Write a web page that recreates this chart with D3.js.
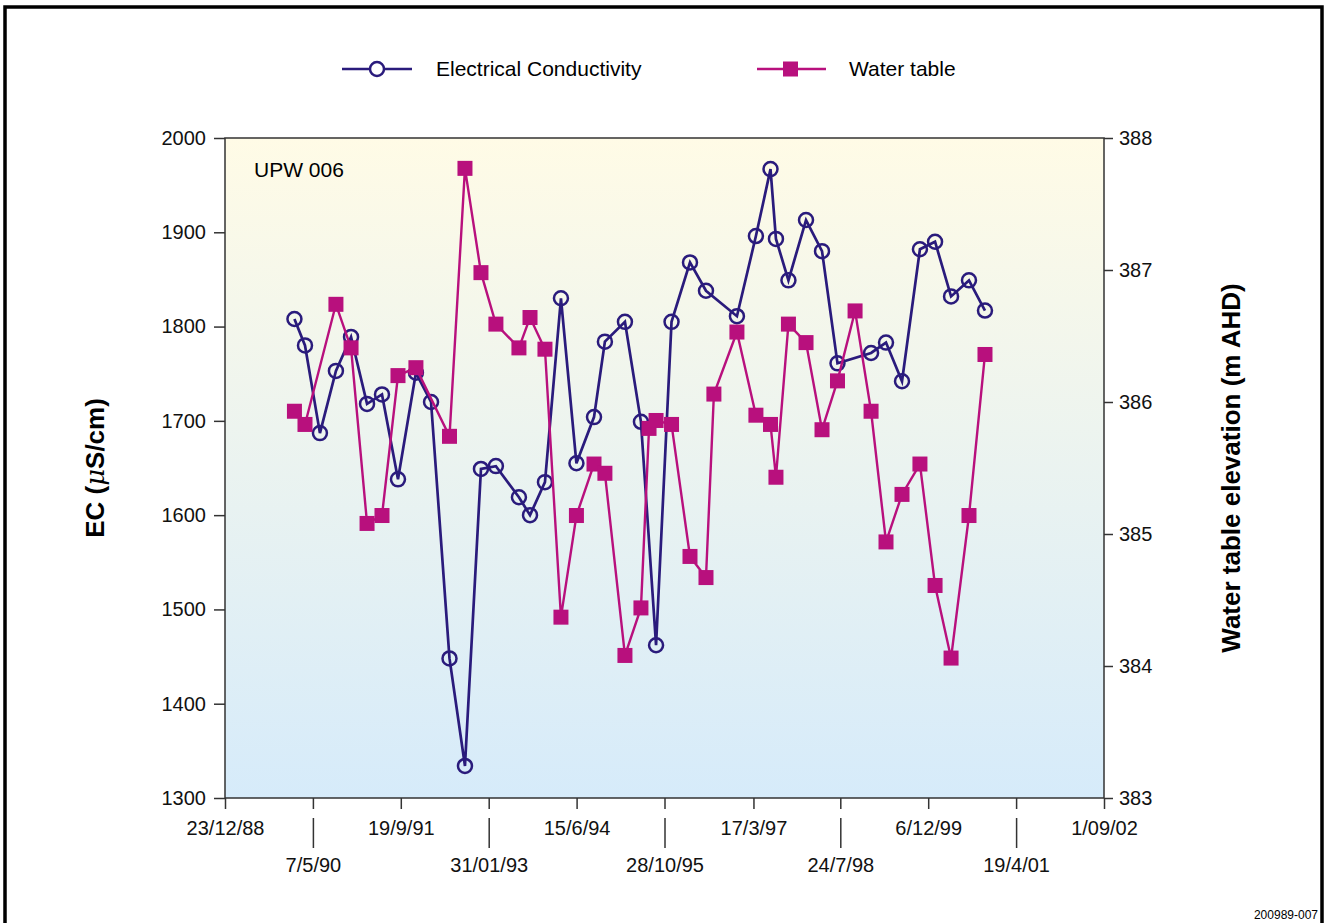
<!DOCTYPE html>
<html>
<head>
<meta charset="utf-8">
<script src="https://cdn.jsdelivr.net/npm/d3@7"></script>
<style>
body { margin: 0; background: #fff; }
text { font-family: "Liberation Sans", Arial, Helvetica, sans-serif; }
</style>
</head>
<body>
<div id="chart"></div>
<script>
// sample dates shared by the two series
var ecDates = ["1990-01-22","1990-03-23","1990-06-16","1990-09-15","1990-12-10","1991-03-11","1991-06-04","1991-09-03","1991-12-14","1992-03-09",
    "1992-06-22","1992-09-18","1992-12-18","1993-03-13","1993-07-22","1993-09-23","1993-12-17","1994-03-18","1994-06-14","1994-09-22",
    "1994-11-23","1995-03-17","1995-06-16","1995-09-10","1995-12-07","1996-03-21","1996-06-20","1996-12-13","1997-03-31","1997-06-22",
    "1997-07-23","1997-10-02","1998-01-10","1998-04-11","1998-07-08","1999-01-15","1999-04-10","1999-07-10","1999-10-20","2000-01-14",
    "2000-04-14","2000-07-25","2000-10-24"];
var ecValues = [1808,1780,1687,1753,1789,1718,1728,1638,1751,1720,
    1448,1334,1649,1652,1619,1600,1635,1830,1655,1704,
    1784,1805,1699,1462,1805,1868,1838,1811,1896,1967,
    1893,1849,1913,1880,1761,1772,1783,1742,1882,1890,
    1832,1849,1817];

var wtDates = ["1990-01-22","1990-03-23","1990-09-15","1990-12-10","1991-03-11","1991-06-04","1991-09-03","1991-12-14","1992-06-22","1992-09-18",
    "1992-12-18","1993-03-13","1993-07-22","1993-09-23","1993-12-17","1994-03-18","1994-06-14","1994-09-22","1994-11-23","1995-03-17",
    "1995-06-16","1995-08-01","1995-09-10","1995-12-07","1996-03-21","1996-06-20","1996-08-04","1996-12-13","1997-03-31","1997-06-22",
    "1997-07-23","1997-10-02","1998-01-10","1998-04-11","1998-07-08","1998-10-16","1999-01-15","1999-04-10","1999-07-10","1999-10-20",
    "2000-01-14","2000-04-14","2000-07-25","2000-10-24"];
var wtValues = [385.93,385.83,386.74,386.41,385.08,385.14,386.20,386.26,385.74,387.77,
    386.98,386.59,386.41,386.64,386.40,384.37,385.14,385.53,385.46,384.08,
    384.44,385.80,385.86,385.83,384.83,384.67,386.06,386.53,385.90,385.83,
    385.43,386.59,386.45,385.79,386.16,386.69,385.93,384.94,385.30,385.53,
    384.61,384.06,385.14,386.36];

var tickDates = ["1988-12-23","1990-05-07","1991-09-19","1993-01-31","1994-06-15","1995-10-28","1997-03-17","1998-07-24","1999-12-06","2001-04-19","2002-09-01"];
var tickLabels = ["23/12/88","7/5/90","19/9/91","31/01/93","15/6/94","28/10/95","17/3/97","24/7/98","6/12/99","19/4/01","1/09/02"];
var ecTicks = [1300,1400,1500,1600,1700,1800,1900,2000];
var wtTicks = [383,384,385,386,387,388];

var width = 1326, height = 923;
var plot = { left: 225, right: 1104, top: 138, bottom: 798 };
var ecColor = "#2a1b7c", wtColor = "#b8107d";

var parse = d3.utcParse("%Y-%m-%d");

var ec = ecDates.map(function(d, i) { return { date: parse(d), value: ecValues[i] }; });
var wt = wtDates.map(function(d, i) { return { date: parse(d), value: wtValues[i] }; });

var x = d3.scaleUtc()
    .domain([parse(tickDates[0]), parse(tickDates[tickDates.length - 1])])
    .range([plot.left, plot.right]);
var yEC = d3.scaleLinear().domain([1300, 2000]).range([plot.bottom, plot.top]);
var yWT = d3.scaleLinear().domain([383, 388]).range([plot.bottom, plot.top]);

var svg = d3.select("#chart").append("svg")
    .attr("width", width)
    .attr("height", height);

// outer frame
svg.append("rect")
    .attr("x", 5).attr("y", 7)
    .attr("width", 1317).attr("height", 960)
    .attr("fill", "none")
    .attr("stroke", "#000")
    .attr("stroke-width", 3.5);

var grad = svg.append("defs").append("linearGradient")
    .attr("id", "bg").attr("x1", 0).attr("y1", 0).attr("x2", 0).attr("y2", 1);
grad.append("stop").attr("offset", "0%").attr("stop-color", "#fffbe6");
grad.append("stop").attr("offset", "100%").attr("stop-color", "#d6ebfa");

svg.append("rect")
    .attr("x", plot.left).attr("y", plot.top)
    .attr("width", plot.right - plot.left).attr("height", plot.bottom - plot.top)
    .attr("fill", "url(#bg)")
    .attr("stroke", "#333")
    .attr("stroke-width", 1.5);

// left axis
var gl = svg.append("g")
    .attr("transform", "translate(" + plot.left + ",0)")
    .call(d3.axisLeft(yEC).tickValues(ecTicks).tickSize(11).tickPadding(8).tickFormat(d3.format("d")));
gl.select(".domain").remove();

// right axis
var gr = svg.append("g")
    .attr("transform", "translate(" + plot.right + ",0)")
    .call(d3.axisRight(yWT).tickValues(wtTicks).tickSize(9).tickPadding(6).tickFormat(d3.format("d")));
gr.select(".domain").remove();

// bottom axis, labels in two rows
var gb = svg.append("g")
    .attr("transform", "translate(0," + plot.bottom + ")")
    .call(d3.axisBottom(x).tickValues(tickDates.map(parse)).tickSize(11)
        .tickFormat(function(d, i) { return tickLabels[i]; }));
gb.select(".domain").remove();
gb.selectAll(".tick text")
    .attr("dy", null)
    .attr("y", function(d, i) { return i % 2 ? 74 : 37; });
gb.selectAll(".tick").filter(function(d, i) { return i % 2 === 1; })
    .append("line")
    .attr("y1", 20).attr("y2", 50)
    .attr("stroke", "#333");

svg.selectAll(".tick line").attr("stroke", "#333").attr("stroke-width", 1.5);
svg.selectAll(".tick text")
    .attr("font-size", 20)
    .attr("fill", "#111")
    .style("font-family", "'Liberation Sans', Arial, sans-serif");

// EC series
svg.append("path")
    .datum(ec)
    .attr("fill", "none")
    .attr("stroke", ecColor)
    .attr("stroke-width", 2.7)
    .attr("d", d3.line().x(function(d) { return x(d.date); }).y(function(d) { return yEC(d.value); }));

svg.append("g").selectAll("circle")
    .data(ec)
    .enter().append("circle")
    .attr("cx", function(d) { return x(d.date); })
    .attr("cy", function(d) { return yEC(d.value); })
    .attr("r", 7)
    .attr("fill", "none")
    .attr("stroke", ecColor)
    .attr("stroke-width", 2.5);

// water table series
svg.append("path")
    .datum(wt)
    .attr("fill", "none")
    .attr("stroke", wtColor)
    .attr("stroke-width", 2.4)
    .attr("d", d3.line().x(function(d) { return x(d.date); }).y(function(d) { return yWT(d.value); }));

svg.append("g").selectAll("rect")
    .data(wt)
    .enter().append("rect")
    .attr("x", function(d) { return x(d.date) - 7.5; })
    .attr("y", function(d) { return yWT(d.value) - 7.5; })
    .attr("width", 15).attr("height", 15)
    .attr("fill", wtColor);

// legend
var leg = svg.append("g");
leg.append("line").attr("x1", 342).attr("x2", 412).attr("y1", 69).attr("y2", 69)
    .attr("stroke", ecColor).attr("stroke-width", 2.7);
leg.append("circle").attr("cx", 377).attr("cy", 69).attr("r", 7)
    .attr("fill", "#fff").attr("stroke", ecColor).attr("stroke-width", 2.5);
leg.append("text").attr("x", 436).attr("y", 76).attr("font-size", 21).text("Electrical Conductivity");
leg.append("line").attr("x1", 757).attr("x2", 826).attr("y1", 69).attr("y2", 69)
    .attr("stroke", wtColor).attr("stroke-width", 2.4);
leg.append("rect").attr("x", 783).attr("y", 61.5).attr("width", 15).attr("height", 15)
    .attr("fill", wtColor);
leg.append("text").attr("x", 849).attr("y", 76).attr("font-size", 21).text("Water table");

// well label
svg.append("text").attr("x", 254).attr("y", 177).attr("font-size", 21).text("UPW 006");

// axis titles
var ecTitle = svg.append("text")
    .attr("transform", "translate(104,468) rotate(-90)")
    .attr("text-anchor", "middle")
    .attr("font-size", 26)
    .attr("font-weight", "bold");
ecTitle.append("tspan").text("EC (");
ecTitle.append("tspan").attr("font-style", "italic").attr("font-family", "'DejaVu Serif', serif").attr("font-weight", "normal").text("\u03bc");
ecTitle.append("tspan").text("S/cm)");

svg.append("text")
    .attr("transform", "translate(1240,468) rotate(-90)")
    .attr("text-anchor", "middle")
    .attr("font-size", 26)
    .attr("font-weight", "bold")
    .text("Water table elevation (m AHD)");

svg.append("text")
    .attr("x", 1318).attr("y", 919)
    .attr("text-anchor", "end")
    .attr("font-size", 12)
    .text("200989-007");
</script>
</body>
</html>
